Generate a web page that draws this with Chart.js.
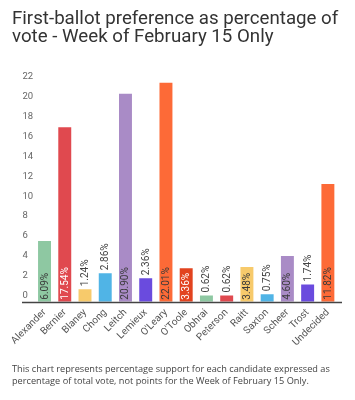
<!DOCTYPE html>
<html>
<head>
<meta charset="utf-8">
<script src="https://cdn.jsdelivr.net/npm/chart.js@4"></script>
<style>
  html, body { margin: 0; padding: 0; background: #fff; }
  #wrap { position: relative; width: 355px; height: 400px; overflow: hidden; }
  #title { position: absolute; left: 12px; top: 9px; width: 342px; font-family: Roboto, sans-serif; font-size: 18.7px; line-height: 18px; color: #333; font-weight: 400; }
  #note { position: absolute; left: 12px; top: 363px; width: 340px; font-family: "Open Sans", sans-serif; font-size: 9.2px; line-height: 12px; color: #444; }
  canvas { position: absolute; left: 0; top: 0; }
</style>
</head>
<body>
<div id="wrap">
  <canvas id="c" width="355" height="400"></canvas>
  <div id="title">First-ballot preference as percentage of vote - Week of February 15 Only</div>
  <div id="note">This chart represents percentage support for each candidate expressed as percentage of total vote, not points for the Week of February 15 Only.</div>
</div>
<script>
const candidates = ['Alexander','Bernier','Blaney','Chong','Leitch','Lemieux',"O'Leary","O'Toole",'Obhrai','Peterson','Raitt','Saxton','Scheer','Trost','Undecided'];
const support = [6.09, 17.54, 1.24, 2.86, 20.90, 2.36, 22.01, 3.36, 0.62, 0.62, 3.48, 0.75, 4.60, 1.74, 11.82];
const yTicks = [0, 2, 4, 6, 8, 10, 12, 14, 16, 18, 20, 22];
const palette = ['#8ec8a2','#e0494f','#f7ca6b','#50b4e6','#a98bc6','#6a4bde','#fd6a37','#e2431f'];
const whiteLabel = ['Bernier', "O'Toole"];

const barColors = candidates.map((c, i) => palette[i % palette.length]);

const valueLabels = {
  id: 'valueLabels',
  afterDatasetsDraw(chart) {
    const ctx = chart.ctx;
    const meta = chart.getDatasetMeta(0);
    ctx.save();
    ctx.font = '400 10px Roboto, sans-serif';
    ctx.textBaseline = 'middle';
    ctx.textAlign = 'left';
    meta.data.forEach((bar, i) => {
      const txt = support[i].toFixed(2) + '%';
      const w = ctx.measureText(txt).width;
      const h = bar.base - bar.y;
      let startY, color;
      if (h >= w + 4) {
        startY = bar.base - 2;
        color = whiteLabel.includes(candidates[i]) ? '#ffffff' : '#3a3a3a';
      } else {
        startY = bar.y - 3;
        color = '#444444';
      }
      ctx.save();
      ctx.translate(bar.x + 0.5, startY);
      ctx.rotate(-Math.PI / 2);
      ctx.fillStyle = color;
      ctx.fillText(txt, 0, 0);
      ctx.restore();
    });
    ctx.restore();
  }
};

const baseline = {
  id: 'baseline',
  afterDatasetsDraw(chart) {
    const ctx = chart.ctx;
    const y = chart.scales.y.getPixelForValue(0);
    ctx.save();
    ctx.strokeStyle = '#444';
    ctx.lineWidth = 1.5;
    ctx.beginPath();
    ctx.moveTo(22, y + 0.75);
    ctx.lineTo(342, y + 0.75);
    ctx.stroke();
    ctx.restore();
  }
};

new Chart(document.getElementById('c'), {
  type: 'bar',
  data: {
    labels: candidates,
    datasets: [{
      data: support,
      backgroundColor: barColors,
      borderWidth: 0,
      categoryPercentage: 1,
      barPercentage: 0.64
    }]
  },
  options: {
    responsive: false,
    animation: false,
    layout: { padding: { top: 80.8, bottom: 38.3, left: 22.4, right: 17 } },
    plugins: { legend: { display: false }, tooltip: { enabled: false } },
    scales: {
      x: {
        grid: { display: false, drawTicks: false },
        border: { display: false },
        ticks: {
          minRotation: 45, maxRotation: 45, autoSkip: false, padding: 5,
          color: '#555', font: { family: 'Roboto, sans-serif', size: 10 }
        },
        afterFit(scale) { scale.height = 60; }
      },
      y: {
        min: 0, max: 22.2,
        grid: { display: false, drawTicks: false },
        border: { display: false },
        afterBuildTicks(scale) { scale.ticks = yTicks.map(v => ({ value: v })); },
        ticks: {
          crossAlign: 'far', labelOffset: -6, padding: 0,
          color: '#666', font: { family: 'Roboto, sans-serif', size: 9.5 }
        },
        afterFit(scale) { scale.width = 12; }
      }
    }
  },
  plugins: [valueLabels, baseline]
});
</script>
</body>
</html>
